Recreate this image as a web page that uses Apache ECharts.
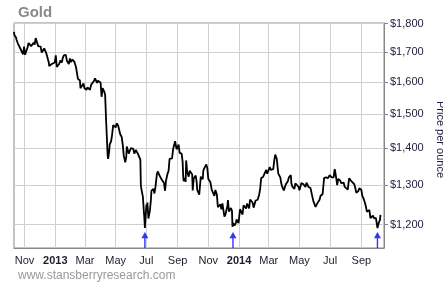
<!DOCTYPE html>
<html>
<head>
<meta charset="utf-8">
<script src="https://cdn.jsdelivr.net/npm/echarts@6/dist/echarts.min.js"></script>
<style>
html,body{margin:0;padding:0;background:#fff;}
#chart{width:443px;height:282px;}
</style>
</head>
<body>
<div id="chart"></div>
<script>
const dates = [
'2012-10-11','2012-10-12','2012-10-15','2012-10-16','2012-10-18','2012-10-19','2012-10-22','2012-10-24','2012-10-26','2012-10-29','2012-10-31',
'2012-11-02','2012-11-05','2012-11-07','2012-11-09','2012-11-12','2012-11-14','2012-11-16','2012-11-19','2012-11-21','2012-11-23','2012-11-26','2012-11-28','2012-11-30',
'2012-12-03','2012-12-05','2012-12-07','2012-12-10','2012-12-12','2012-12-14','2012-12-17','2012-12-19','2012-12-20','2012-12-24','2012-12-27','2012-12-31',
'2013-01-02','2013-01-04','2013-01-07','2013-01-09','2013-01-11','2013-01-14','2013-01-16','2013-01-18','2013-01-22','2013-01-24','2013-01-28','2013-01-30',
'2013-02-01','2013-02-04','2013-02-06','2013-02-08','2013-02-11','2013-02-13','2013-02-15','2013-02-19','2013-02-20','2013-02-22','2013-02-26','2013-02-28',
'2013-03-04','2013-03-06','2013-03-08','2013-03-11','2013-03-13','2013-03-15','2013-03-19','2013-03-21','2013-03-25','2013-03-27',
'2013-04-01','2013-04-03','2013-04-05','2013-04-08','2013-04-10','2013-04-11','2013-04-12','2013-04-15','2013-04-16','2013-04-18','2013-04-19','2013-04-22','2013-04-24','2013-04-26','2013-04-29',
'2013-05-01','2013-05-03','2013-05-06','2013-05-08','2013-05-10','2013-05-13','2013-05-15','2013-05-17','2013-05-20','2013-05-22','2013-05-23','2013-05-27','2013-05-29','2013-05-31',
'2013-06-03','2013-06-05','2013-06-07','2013-06-10','2013-06-12','2013-06-14','2013-06-17','2013-06-19','2013-06-20','2013-06-21','2013-06-24','2013-06-25','2013-06-26','2013-06-27','2013-06-28',
'2013-07-01','2013-07-02','2013-07-03','2013-07-05','2013-07-08','2013-07-10','2013-07-11','2013-07-12','2013-07-15','2013-07-17','2013-07-19','2013-07-22','2013-07-24','2013-07-26','2013-07-29','2013-07-31',
'2013-08-02','2013-08-05','2013-08-07','2013-08-09','2013-08-12','2013-08-14','2013-08-16','2013-08-19','2013-08-21','2013-08-23','2013-08-27','2013-08-29','2013-08-30',
'2013-09-03','2013-09-05','2013-09-09','2013-09-11','2013-09-12','2013-09-13','2013-09-16','2013-09-17','2013-09-18','2013-09-20','2013-09-23','2013-09-25','2013-09-27','2013-09-30',
'2013-10-01','2013-10-03','2013-10-07','2013-10-09','2013-10-10','2013-10-14','2013-10-15','2013-10-17','2013-10-21','2013-10-22','2013-10-24','2013-10-28','2013-10-30',
'2013-11-01','2013-11-05','2013-11-07','2013-11-08','2013-11-11','2013-11-13','2013-11-15','2013-11-18','2013-11-20','2013-11-22','2013-11-25','2013-11-27','2013-11-29',
'2013-12-03','2013-12-05','2013-12-09','2013-12-10','2013-12-12','2013-12-16','2013-12-18','2013-12-19','2013-12-20','2013-12-23','2013-12-26','2013-12-27','2013-12-31',
'2014-01-03','2014-01-06','2014-01-08','2014-01-10','2014-01-13','2014-01-15','2014-01-17','2014-01-21','2014-01-23','2014-01-24','2014-01-28','2014-01-30',
'2014-02-03','2014-02-05','2014-02-07','2014-02-10','2014-02-12','2014-02-14','2014-02-18','2014-02-20','2014-02-24','2014-02-26','2014-02-28',
'2014-03-03','2014-03-05','2014-03-07','2014-03-10','2014-03-12','2014-03-14','2014-03-17','2014-03-18','2014-03-20','2014-03-24','2014-03-26','2014-03-28','2014-03-31',
'2014-04-02','2014-04-04','2014-04-08','2014-04-10','2014-04-14','2014-04-15','2014-04-17','2014-04-21','2014-04-23','2014-04-25','2014-04-29',
'2014-05-01','2014-05-05','2014-05-07','2014-05-09','2014-05-13','2014-05-15','2014-05-19','2014-05-21','2014-05-23','2014-05-27','2014-05-29',
'2014-06-02','2014-06-04','2014-06-06','2014-06-10','2014-06-12','2014-06-16','2014-06-18','2014-06-19','2014-06-23','2014-06-25','2014-06-27','2014-06-30',
'2014-07-02','2014-07-04','2014-07-08','2014-07-10','2014-07-11','2014-07-14','2014-07-15','2014-07-17','2014-07-21','2014-07-23','2014-07-25','2014-07-28','2014-07-30',
'2014-08-01','2014-08-05','2014-08-07','2014-08-08','2014-08-12','2014-08-14','2014-08-18','2014-08-20','2014-08-22','2014-08-26','2014-08-28',
'2014-09-01','2014-09-03','2014-09-05','2014-09-08','2014-09-10','2014-09-12','2014-09-15','2014-09-17','2014-09-19','2014-09-22','2014-09-24','2014-09-26','2014-09-30',
'2014-10-02','2014-10-03','2014-10-06','2014-10-08','2014-10-09'
];
const prices = [
1770,1758,1750,1742,1745,1728,1722,1710,1712,1692,1718,
1690,1688,1716,1731,1728,1720,1714,1732,1725,1748,1746,1720,1725,
1718,1698,1702,1712,1712,1696,1692,1665,1652,1658,1662,1664,
1688,1649,1648,1660,1671,1664,1680,1688,1690,1670,1659,1678,
1666,1674,1672,1666,1650,1645,1610,1605,1580,1575,1595,1580,
1575,1583,1580,1575,1590,1592,1604,1612,1597,1604,
1598,1553,1580,1570,1560,1565,1480,1380,1370,1390,1410,1420,1440,1467,1470,
1460,1472,1465,1468,1440,1432,1410,1380,1361,1375,1405,1385,1390,1400,
1405,1398,1385,1395,1390,1385,1380,1368,1299,1290,1270,1275,1232,1215,1192,
1250,1240,1255,1215,1235,1262,1285,1280,1290,1278,1295,1330,1336,1328,1326,1315,
1310,1305,1285,1312,1330,1337,1370,1368,1372,1397,1420,1405,1397,
1410,1387,1385,1362,1326,1310,1318,1308,1366,1335,1322,1338,1336,1328,
1286,1317,1325,1306,1287,1275,1272,1322,1315,1338,1345,1355,1345,
1316,1308,1312,1287,1282,1272,1287,1275,1243,1243,1250,1238,1253,
1220,1225,1247,1261,1232,1241,1234,1195,1204,1198,1205,1213,1204,
1238,1238,1225,1248,1252,1240,1252,1240,1262,1265,1255,1242,
1260,1258,1262,1275,1290,1318,1322,1320,1340,1330,1335,
1348,1340,1345,1342,1366,1382,1370,1357,1330,1320,1304,1295,1286,
1290,1302,1310,1320,1326,1304,1296,1290,1304,1300,1296,
1286,1305,1310,1302,1295,1306,1295,1294,1292,1268,1257,
1244,1246,1254,1262,1272,1276,1272,1318,1320,1316,1318,1326,
1328,1320,1320,1342,1336,1310,1300,1316,1312,1305,1303,1306,1295,
1290,1288,1310,1318,1310,1315,1302,1292,1280,1284,1292,
1287,1272,1266,1255,1245,1232,1234,1236,1216,1218,1222,1216,1216,
1214,1192,1206,1212,1224
];
const arrowDates = ['2013-06-28','2013-12-20','2014-10-03'];
const monthTicks = ['2012-11-01','2013-01-01','2013-03-01','2013-05-01','2013-07-01','2013-09-01','2013-11-01','2014-01-01','2014-03-01','2014-05-01','2014-07-01','2014-09-01'];
const priceTicks = [1200,1300,1400,1500,1600,1700,1800];
const monthNames = ['Jan','Feb','Mar','Apr','May','Jun','Jul','Aug','Sep','Oct','Nov','Dec'];

const FONT = '"Liberation Sans", Arial, sans-serif';
const lineData = dates.map((d,i)=>[Date.parse(d), prices[i]]);
const Y_MIN = 1145, Y_MAX = 1802;
const arrowData = arrowDates.map(d=>[Date.parse(d), Y_MIN]);

const chart = echarts.init(document.getElementById('chart'), null, {renderer:'canvas'});
chart.setOption({
  animation:false,
  backgroundColor:'#fff',
  title:[
    {text:'Gold', left:13, top:0, textStyle:{fontFamily:FONT, fontSize:15, fontWeight:'bold', color:'#8a8a8a'}},
    {text:'www.stansberryresearch.com', left:13, top:265, textStyle:{fontFamily:FONT, fontSize:12, fontWeight:'normal', color:'#999'}}
  ],
  grid:{left:14, right:59, top:23, bottom:34, show:true, borderColor:'#888', borderWidth:1, backgroundColor:'transparent', containLabel:false, outerBoundsMode:'none'},
  xAxis:{
    type:'value',
    min:Date.parse('2012-10-11'),
    max:Date.parse('2014-10-16'),
    axisLine:{show:true, lineStyle:{color:'#888'}},
    axisTick:{show:false, customValues:monthTicks.map(d=>Date.parse(d))},
    splitLine:{show:true, lineStyle:{color:'#d0d0d0', width:1}},
    axisLabel:{
      customValues:monthTicks.map(d=>Date.parse(d)),
      margin:7,
      fontFamily:FONT, fontSize:11, color:'#1c1c2c',
      formatter:function(v){
        const d=new Date(v);
        const m=d.getUTCMonth();
        return m===0 ? '{b|'+d.getUTCFullYear()+'}' : monthNames[m];
      },
      rich:{b:{fontFamily:FONT, fontSize:11, fontWeight:'bold', color:'#1c1c2c'}}
    }
  },
  yAxis:{
    type:'log',
    logBase:10,
    position:'right',
    min:Y_MIN, max:Y_MAX,
    name:'Price per ounce',
    nameLocation:'middle',
    nameRotate:-90,
    nameGap:47,
    nameTextStyle:{fontFamily:FONT, fontSize:11, color:'#1c1c3c', padding:[0,0,0,8]},
    axisLine:{show:true, lineStyle:{color:'#888'}},
    axisTick:{show:true, length:4, inside:false, lineStyle:{color:'#888'}, customValues:priceTicks},
    splitLine:{show:true, lineStyle:{color:'#d0d0d0', width:1}},
    axisLabel:{
      customValues:priceTicks,
      margin:6,
      fontFamily:FONT, fontSize:11, color:'#1c1c3c',
      formatter:function(v){ v=Math.round(v); return '$'+Math.floor(v/1000)+','+String(v%1000).padStart(3,'0'); }
    }
  },
  series:[
    {type:'line', data:lineData, showSymbol:false, symbol:'none', lineStyle:{color:'#000', width:1.8}, z:3},
    {type:'scatter', data:arrowData, symbol:'path://M4,0 L8,7 L4.8,7 L4.8,18 L3.2,18 L3.2,7 L0,7 Z', symbolKeepAspect:false,
     symbolSize:[7,16], symbolOffset:[0,'-50%'], itemStyle:{color:'#0000ff'}, clip:false, z:4}
  ]
});
</script>
</body>
</html>
